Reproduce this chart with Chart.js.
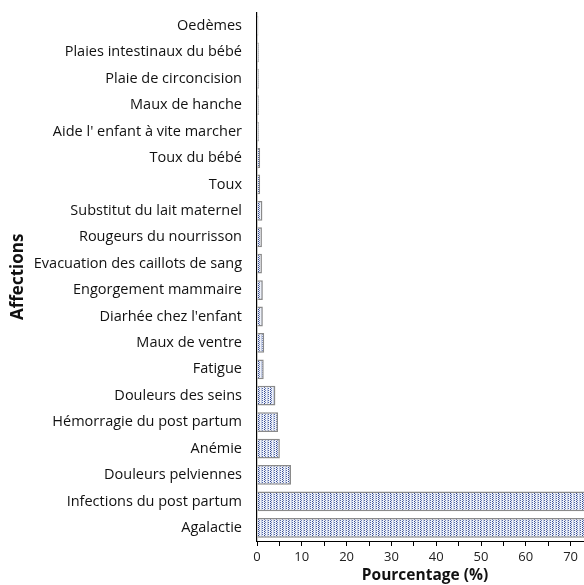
<!DOCTYPE html>
<html>
<head>
<meta charset="utf-8">
<script src="https://cdn.jsdelivr.net/npm/chart.js@4"></script>
<style>
html,body{margin:0;padding:0;background:#fff;overflow:hidden;}
#wrap{width:596px;height:596px;position:relative;margin-top:-11px;}
</style>
</head>
<body>
<div id="wrap"><canvas id="c" width="596" height="596"></canvas></div>
<script>
const categories = ["Oedèmes","Plaies intestinaux du bébé","Plaie de circoncision","Maux de hanche","Aide l' enfant à vite marcher","Toux du bébé","Toux","Substitut du lait maternel","Rougeurs du nourrisson","Evacuation des caillots de sang","Engorgement mammaire","Diarhée chez l'enfant","Maux de ventre","Fatigue","Douleurs des seins","Hémorragie du post partum","Anémie","Douleurs pelviennes","Infections du post partum","Agalactie"];
const values = [0.3,0.4,0.4,0.4,0.4,0.7,0.7,1.2,1.1,1.1,1.3,1.3,1.6,1.5,4.1,4.7,5.1,7.6,77,78];
const xTicks = [0,10,20,30,40,50,60,70];

function makePattern(){
  const p = document.createElement('canvas');
  p.width = 6; p.height = 4;
  const g = p.getContext('2d');
  g.fillStyle = '#eef1f8'; g.fillRect(0,0,6,4);
  g.fillStyle = '#c0cae4'; g.fillRect(3,0,1,4);
  g.fillStyle = '#2f4590'; g.fillRect(0,0,1,1); g.fillRect(0,2,1,1);
  g.fillStyle = '#6f80b9'; g.fillRect(1,1,1,1); g.fillRect(1,3,1,1);
  g.fillStyle = '#5066a8'; g.fillRect(4,1,1,1); g.fillRect(4,3,1,1);
  return g.createPattern(p,'repeat');
}
const ctx = document.getElementById('c').getContext('2d');
const pat = makePattern();
const FONT = "'Open Sans'";

new Chart(ctx,{
  type:'bar',
  data:{labels:categories,datasets:[{data:values,backgroundColor:pat,borderColor:'#8a8a8a',borderWidth:1.5,barPercentage:0.75,categoryPercentage:1.0}]},
  options:{
    indexAxis:'y',responsive:false,animation:false,
    layout:{padding:{left:8,top:0,right:0,bottom:0}},
    plugins:{legend:{display:false},tooltip:{enabled:false}},
    scales:{
      x:{min:0,max:75,
        ticks:{stepSize:5,autoSkip:false,maxRotation:0,color:'#222',font:{family:FONT,size:13},padding:3,
          callback:(v)=> xTicks.includes(v)? String(v):''},
        grid:{drawOnChartArea:false,drawTicks:true,tickLength:5,color:'#000',lineWidth:1},
        border:{display:true,color:'#000',width:1},
        title:{display:true,text:'Pourcentage (%)',color:'#111',font:{family:FONT,size:15.5,weight:'bold'},padding:{top:2,bottom:0}},
        afterFit:(s)=>{s.height=44;}
      },
      y:{
        ticks:{color:'#111',font:{family:FONT,size:14.5},padding:15,autoSkip:false},
        grid:{drawOnChartArea:false,drawTicks:false},
        border:{display:true,color:'#000',width:1.2},
        title:{display:true,text:'Affections',color:'#111',font:{family:FONT,size:17,weight:'bold'},padding:{top:0,bottom:0}},
        afterFit:(s)=>{s.width=249;}
      }
    }
  }
});
</script>
</body>
</html>
